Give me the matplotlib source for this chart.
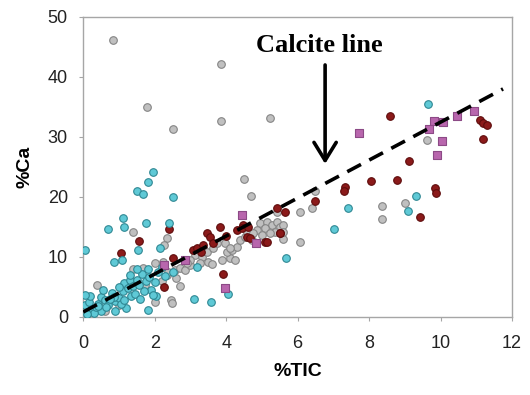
import matplotlib
matplotlib.use("Agg")
import matplotlib.pyplot as plt

plt.rcParams['font.family'] = ['Liberation Sans', 'DejaVu Sans']

# 数据
gray_x = [0.84, 1.79, 2.52, 3.86, 3.86, 5.23, 4.5, 4.7, 9.62, 8.36, 8.36, 9.0, 6.07, 6.4, 6.49, 6.07, 5.6,
          0.39, 1.4, 2.34, 2.46, 2.49, 2.71, 1.4, 1.68, 1.74, 2.0, 2.24, 2.25, 2.35, 2.38, 2.57, 2.71, 2.85,
          2.99, 3.13, 3.33, 3.27, 3.47, 3.64, 3.75, 3.89, 4.11, 4.25, 4.03, 4.17, 3.97, 4.3, 4.39, 4.53, 4.59,
          4.95, 5.15, 5.29, 5.43, 5.51, 5.6, 5.43, 5.37, 5.09, 4.87, 4.59, 4.76, 5.0, 5.23, 5.6, 4.73, 3.5,
          3.6, 2.0, 0.3, 0.6, 0.2, 1.0, 2.6, 2.2, 3.0, 2.9, 4.11]
gray_y = [46.1, 35.0, 31.4, 42.2, 32.7, 33.2, 23.0, 20.2, 29.5, 18.5, 16.3, 19.0, 17.5, 18.2, 21.0, 12.5, 13.0,
          5.3, 14.1, 13.2, 2.8, 2.3, 5.1, 8.0, 8.1, 5.3, 9.0, 9.1, 12.0, 7.0, 7.4, 7.8, 8.1, 7.8,
          8.6, 10.3, 10.0, 9.0, 10.8, 11.5, 12.3, 9.5, 9.8, 9.5, 10.8, 11.2, 12.3, 11.7, 12.8, 13.3, 14.5,
          15.6, 15.8, 15.3, 15.8, 15.0, 15.3, 17.5, 14.2, 14.8, 14.5, 14.2, 14.0, 13.7, 14.0, 14.2, 12.8, 9.2,
          8.8, 2.5, 0.8, 1.0, 0.3, 2.0, 6.5, 6.0, 9.5, 9.0, 11.5]

red_x = [1.06, 1.57, 2.41, 2.52, 2.27, 3.9, 8.6, 9.12, 8.05, 8.78, 7.33, 7.3, 9.85, 9.87, 11.1, 11.2, 11.3,
         11.2, 9.43, 6.49, 5.65, 5.5, 5.1, 4.48, 4.59, 4.67, 5.15, 5.51, 5.43, 3.08, 3.19, 3.47, 3.55, 3.83,
         4.3, 4.45, 4.61, 3.36, 3.64, 3.3, 4.0]
red_y = [10.6, 12.6, 14.6, 9.8, 5.0, 7.1, 33.5, 26.0, 22.7, 22.8, 21.7, 20.9, 21.5, 20.7, 32.9, 32.4, 32.0,
         29.7, 16.7, 19.3, 17.5, 14.0, 12.5, 15.3, 13.3, 13.1, 12.5, 14.0, 18.2, 11.2, 11.5, 14.0, 13.3, 15.0,
         14.5, 14.8, 15.0, 12.0, 12.3, 10.8, 13.5]

cyan_x = [0.04, 0.7, 1.12, 1.15, 1.5, 1.68, 1.82, 1.95, 2.52, 1.76, 2.41, 1.53, 2.15, 0.87, 1.09, 9.65,
          7.41, 7.02, 9.31, 9.09, 5.68, 3.1, 3.58, 4.05, 1.8, 3.19,
          0.05, 0.15, 0.25, 0.4, 0.5, 0.6, 0.7, 0.8, 0.9, 1.0, 1.1, 1.15, 1.25, 1.3, 1.35, 1.4, 1.5, 1.55,
          1.65, 1.75, 1.85, 1.9, 1.2, 0.9, 0.5, 0.3, 1.45, 0.1, 0.35, 0.65, 0.85, 1.05, 1.6, 1.7, 2.0, 2.1,
          2.2, 1.8, 1.5, 1.3, 2.3, 2.05, 0.55, 0.75, 1.0, 0.2, 0.4, 1.95, 2.5, 1.15, 0.06]
cyan_y = [11.1, 14.6, 16.5, 15.0, 21.0, 20.5, 22.5, 24.2, 20.0, 15.6, 15.6, 11.1, 11.5, 9.1, 9.5, 35.5,
          18.2, 14.6, 20.2, 17.6, 9.8, 3.0, 2.4, 3.8, 1.1, 8.3,
          1.9, 2.5, 1.3, 2.2, 3.3, 2.8, 2.0, 4.0, 2.6, 3.2, 4.3, 5.6, 4.8, 6.2, 3.5, 5.1, 6.2, 5.3,
          7.1, 6.0, 6.6, 4.5, 1.5, 1.0, 1.0, 0.6, 3.8, 0.5, 1.6, 1.6, 3.3, 2.2, 3.0, 4.3, 5.8, 7.5,
          8.3, 7.9, 7.9, 7.0, 6.8, 3.5, 4.5, 3.0, 5.0, 3.5, 1.8, 3.7, 7.5, 2.8, 3.6]

purple_x = [7.72, 9.82, 10.07, 10.46, 10.94, 9.68, 10.04, 9.9, 4.45, 2.27, 3.97, 4.84, 2.85]
purple_y = [30.7, 32.7, 32.5, 33.5, 34.4, 31.4, 29.4, 26.9, 17.0, 8.6, 4.8, 12.3, 9.5]

# 方解石线
calcite_x = [0, 11.75]
calcite_y = [0.8, 38.0]

fig = plt.figure(figsize=(5.3, 3.95), dpi=100)
ax = fig.add_axes([0.157, 0.198, 0.809, 0.759])

ax.scatter(gray_x, gray_y, s=30, c='#c0c0c0', edgecolors='#858585', linewidths=0.8, zorder=2)
ax.scatter(red_x, red_y, s=30, c='#8b1a1a', edgecolors='#5e0c0c', linewidths=0.8, zorder=3)
ax.scatter(cyan_x, cyan_y, s=30, c='#5fc9d6', edgecolors='#2f8793', linewidths=0.8, zorder=4)
ax.scatter(purple_x, purple_y, s=28, marker='s', c='#b866ad', edgecolors='#8c4a86', linewidths=0.8, zorder=5)

ax.plot(calcite_x, calcite_y, color='black', lw=2.6, linestyle=(0, (4.3, 2.6)), zorder=6)

ax.text(6.6, 45.2, 'Calcite line', family='Liberation Serif', fontweight='bold', fontsize=19,
        ha='center', va='center')
ax.annotate('', xy=(6.77, 25.5), xytext=(6.77, 42.0),
            arrowprops=dict(arrowstyle='->,head_length=0.65,head_width=0.4', lw=2.6, color='black',
                            mutation_scale=20, shrinkA=0, shrinkB=0))

ax.set_xlim(0, 12)
ax.set_ylim(0, 50)
ax.set_xticks(range(0, 13, 2))
ax.set_yticks(range(0, 51, 10))
for s in ax.spines.values():
    s.set_color('#a6a6a6')
    s.set_linewidth(1.0)
ax.tick_params(direction='out', length=3, color='#a6a6a6', labelsize=13, labelcolor='#222222')
ax.tick_params(axis='x', pad=10)
ax.tick_params(axis='y', pad=8)
ax.set_xlabel('%TIC', fontsize=14, fontweight='bold', labelpad=8)
ax.set_ylabel('%Ca', fontsize=14, fontweight='bold', labelpad=10)

fig.savefig('out.png', dpi=100)
